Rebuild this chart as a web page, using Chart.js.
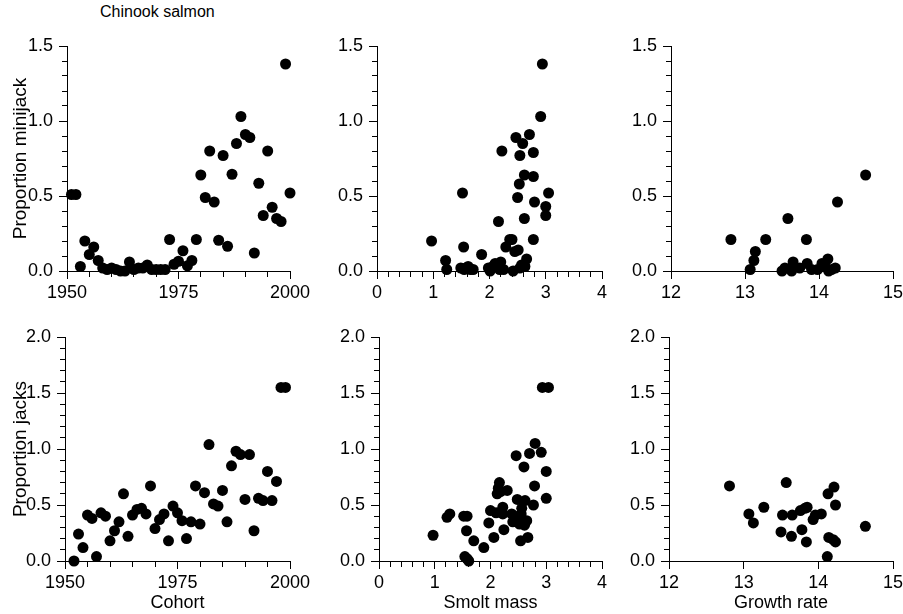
<!DOCTYPE html>
<html><head><meta charset="utf-8">
<script src="https://cdn.jsdelivr.net/npm/chart.js@4.4.0/dist/chart.umd.min.js"></script>
<style>
html,body{margin:0;padding:0;background:#fff;width:903px;height:614px;overflow:hidden;position:relative;}
canvas{position:absolute;}
#ttl{position:absolute;left:100px;top:3px;font-family:'Liberation Sans',Arial,Helvetica,sans-serif;font-size:16px;color:#000;white-space:nowrap;}
</style></head><body>
<div id="ttl">Chinook salmon</div>
<canvas id="pTL"></canvas><canvas id="pTM"></canvas><canvas id="pTR"></canvas>
<canvas id="pBL"></canvas><canvas id="pBM"></canvas><canvas id="pBR"></canvas>
<script>
// ---------- data ----------
const minijackYears = [1951,1952,1953,1954,1955,1956,1957,1958,1959,1960,1961,1962,1963,1964,1965,1966,1967,1968,1969,1970,1971,1972,1973,1974,1975,1976,1977,1978,1979,1980,1981,1982,1983,1984,1985,1986,1987,1988,1989,1990,1991,1992,1993,1994,1995,1996,1997,1998,1999,2000];
const minijackByYear = [0.51,0.51,0.03,0.20,0.11,0.16,0.07,0.02,0.01,0.02,0.01,0.00,0.00,0.06,0.01,0.02,0.02,0.04,0.01,0.01,0.01,0.01,0.21,0.045,0.065,0.135,0.035,0.07,0.21,0.64,0.49,0.80,0.46,0.205,0.77,0.165,0.645,0.85,1.03,0.91,0.89,0.12,0.585,0.37,0.80,0.425,0.35,0.33,1.38,0.52];

const jackYears = [1952,1953,1954,1955,1956,1957,1958,1959,1960,1961,1962,1963,1964,1965,1966,1967,1968,1969,1970,1971,1972,1973,1974,1975,1976,1977,1978,1979,1980,1981,1982,1983,1984,1985,1986,1987,1988,1989,1990,1991,1992,1993,1994,1995,1996,1997,1998,1999];
const jacksByYear = [0.00,0.24,0.12,0.41,0.38,0.04,0.43,0.40,0.18,0.27,0.35,0.60,0.22,0.41,0.46,0.47,0.42,0.67,0.29,0.37,0.42,0.18,0.49,0.43,0.36,0.20,0.35,0.67,0.33,0.61,1.04,0.51,0.49,0.63,0.35,0.85,0.98,0.95,0.55,0.95,0.27,0.56,0.54,0.80,0.54,0.71,1.55,1.55];

const smoltMassMini = [0.97,1.22,1.24,1.52,1.54,1.49,1.55,1.58,1.62,1.66,1.71,1.86,1.98,2.01,2.06,2.10,2.13,2.16,2.18,2.20,2.22,2.25,2.29,2.36,2.40,2.42,2.45,2.47,2.50,2.51,2.53,2.54,2.54,2.57,2.59,2.62,2.62,2.63,2.66,2.71,2.78,2.78,2.78,2.80,2.91,2.94,3.00,3.00,3.05];
const minijackByMass = [0.20,0.07,0.01,0.52,0.16,0.02,0.01,0.02,0.03,0.01,0.01,0.11,0.02,0.00,0.03,0.05,0.04,0.33,0.01,0.06,0.80,0.01,0.16,0.21,0.21,0.00,0.13,0.89,0.49,0.14,0.58,0.77,0.02,0.04,0.85,0.64,0.35,0.03,0.08,0.91,0.79,0.63,0.21,0.46,1.03,1.38,0.43,0.37,0.52];

const growthMini = [12.81,13.07,13.12,13.14,13.28,13.50,13.54,13.58,13.63,13.65,13.74,13.83,13.84,13.90,13.98,14.04,14.08,14.12,14.13,14.17,14.22,14.25,14.63];
const minijackByGrowth = [0.21,0.01,0.07,0.13,0.21,0.00,0.02,0.35,0.00,0.06,0.02,0.21,0.05,0.01,0.01,0.05,0.03,0.08,0.00,0.01,0.02,0.46,0.64];

const smoltMassJack = [0.97,1.22,1.27,1.52,1.58,1.57,1.54,1.58,1.61,1.70,1.88,1.97,2.00,2.06,2.10,2.12,2.14,2.16,2.18,2.22,2.22,2.24,2.30,2.38,2.40,2.43,2.46,2.48,2.49,2.52,2.54,2.55,2.56,2.60,2.61,2.62,2.65,2.67,2.70,2.77,2.79,2.80,2.91,2.93,3.00,3.00,3.04];
const jacksByMass = [0.23,0.39,0.42,0.40,0.40,0.27,0.04,0.02,0.00,0.18,0.12,0.34,0.45,0.21,0.43,0.60,0.65,0.70,0.62,0.42,0.48,0.28,0.63,0.42,0.35,0.40,0.94,0.55,0.36,0.33,0.18,0.42,0.47,0.84,0.32,0.54,0.36,0.21,0.96,0.50,0.67,1.05,0.97,1.55,0.80,0.56,1.55];

const growthJack = [12.81,13.07,13.13,13.27,13.50,13.52,13.57,13.64,13.65,13.76,13.78,13.82,13.84,13.85,13.93,13.96,14.04,14.12,14.13,14.14,14.20,14.21,14.23,14.23,14.63];
const jacksByGrowth = [0.67,0.42,0.34,0.48,0.26,0.41,0.70,0.22,0.41,0.45,0.28,0.47,0.17,0.48,0.37,0.41,0.42,0.04,0.60,0.21,0.19,0.66,0.50,0.17,0.31];

// tick labels
const ticksMinijack = [0, 0.5, 1.0, 1.5];
const ticksJacks = [0, 0.5, 1.0, 1.5, 2.0];
const ticksCohort = [1950, 1975, 2000];
const ticksMass = [0, 1, 2, 3, 4];
const ticksGrowth = [12, 13, 14, 15];

// ---------- drawing ----------
const FONT = "'Liberation Sans', Arial, Helvetica, sans-serif";
const TL = 8, MINOR = 5;
const isMajor = (v, majors) => majors.some(m => Math.abs(m - v) < 1e-6);

function panel(id, area, xs, ys, xAx, yAx) {
  const leftCol = !!yAx.title;
  const cx = leftCol ? 0 : area.L - 60;
  const wy = area.L - cx;
  const padT = 20, padR = 30, hx = 55;
  const cy = area.T - padT;
  const cw = (area.R - area.L) + wy + padR;
  const ch = (area.B - area.T) + padT + hx;
  const cv = document.getElementById(id);
  cv.width = cw; cv.height = ch;
  cv.style.left = cx + 'px'; cv.style.top = cy + 'px';
  cv.style.width = cw + 'px'; cv.style.height = ch + 'px';
  const pts = xs.map((x, i) => ({x: x, y: ys[i]}));
  new Chart(cv, {
    type: 'scatter',
    data: {datasets: [{data: pts, pointRadius: 5.5, pointHoverRadius: 5.5,
      pointBackgroundColor: '#000', pointBorderColor: '#000', pointBorderWidth: 0, clip: false}]},
    options: {
      responsive: false, animation: false, devicePixelRatio: 1, events: [],
      layout: {padding: {left: 0, top: padT, right: padR, bottom: 0}},
      plugins: {legend: {display: false}, tooltip: {enabled: false}},
      scales: {
        x: {
          type: 'linear', position: 'bottom', min: xAx.min, max: xAx.max,
          ticks: {stepSize: xAx.step, autoSkip: false, maxRotation: 0, minRotation: 0, padding: 3, color: '#000',
            font: {family: FONT, size: 18},
            callback: v => isMajor(v, xAx.majors) ? String(v) : ''},
          grid: {drawOnChartArea: false, drawTicks: true, tickLength: TL, tickColor: '#000', tickWidth: 1,
            tickBorderDash: c => (c.tick && isMajor(c.tick.value, xAx.majors)) ? [] : [MINOR, 100]},
          border: {display: true, color: '#000', width: 1},
          title: {display: !!xAx.title, text: xAx.title || '', color: '#000',
            font: {family: FONT, size: 18, lineHeight: 1.2}, padding: {top: 0, bottom: 2}},
          afterFit: s => { s.height = hx; }
        },
        y: {
          type: 'linear', position: 'left', min: yAx.min, max: yAx.max,
          ticks: {stepSize: 0.1, autoSkip: false, padding: 6, color: '#000',
            font: {family: FONT, size: 18},
            callback: v => isMajor(v, yAx.majors) ? Number(v).toFixed(1) : ''},
          grid: {drawOnChartArea: false, drawTicks: true, tickLength: TL, tickColor: '#000', tickWidth: 1,
            tickBorderDash: c => (c.tick && isMajor(c.tick.value, yAx.majors)) ? [] : [0, TL - MINOR, MINOR, 100]},
          border: {display: true, color: '#000', width: 1},
          title: {display: !!yAx.title, text: yAx.title || '', color: '#000',
            font: {family: FONT, size: 19, lineHeight: 1.2}, padding: {top: 9, bottom: 0}},
          afterFit: s => { s.width = wy; }
        }
      }
    }
  });
}

const yMini = {min: 0, max: 1.5, majors: ticksMinijack};
const yJack = {min: 0, max: 2.0, majors: ticksJacks};
const xCohort = {min: 1950, max: 2000, step: 5, majors: ticksCohort};
const xMass = {min: 0, max: 4, step: 0.2, majors: ticksMass};
const xGrowth = {min: 12, max: 15, step: 1, majors: ticksGrowth};

panel('pTL', {L: 67, T: 46, R: 290, B: 271}, minijackYears, minijackByYear, xCohort, Object.assign({title: 'Proportion minijack'}, yMini));
panel('pTM', {L: 377, T: 46, R: 602, B: 271}, smoltMassMini, minijackByMass, xMass, yMini);
panel('pTR', {L: 671, T: 46, R: 893, B: 271}, growthMini, minijackByGrowth, xGrowth, yMini);
panel('pBL', {L: 65, T: 337, R: 290, B: 561}, jackYears, jacksByYear, Object.assign({title: 'Cohort'}, xCohort), Object.assign({title: 'Proportion jacks'}, yJack));
panel('pBM', {L: 379, T: 337, R: 602, B: 561}, smoltMassJack, jacksByMass, Object.assign({title: 'Smolt mass'}, xMass), yJack);
panel('pBR', {L: 669, T: 337, R: 893, B: 561}, growthJack, jacksByGrowth, Object.assign({title: 'Growth rate'}, xGrowth), yJack);
</script>
</body></html>
